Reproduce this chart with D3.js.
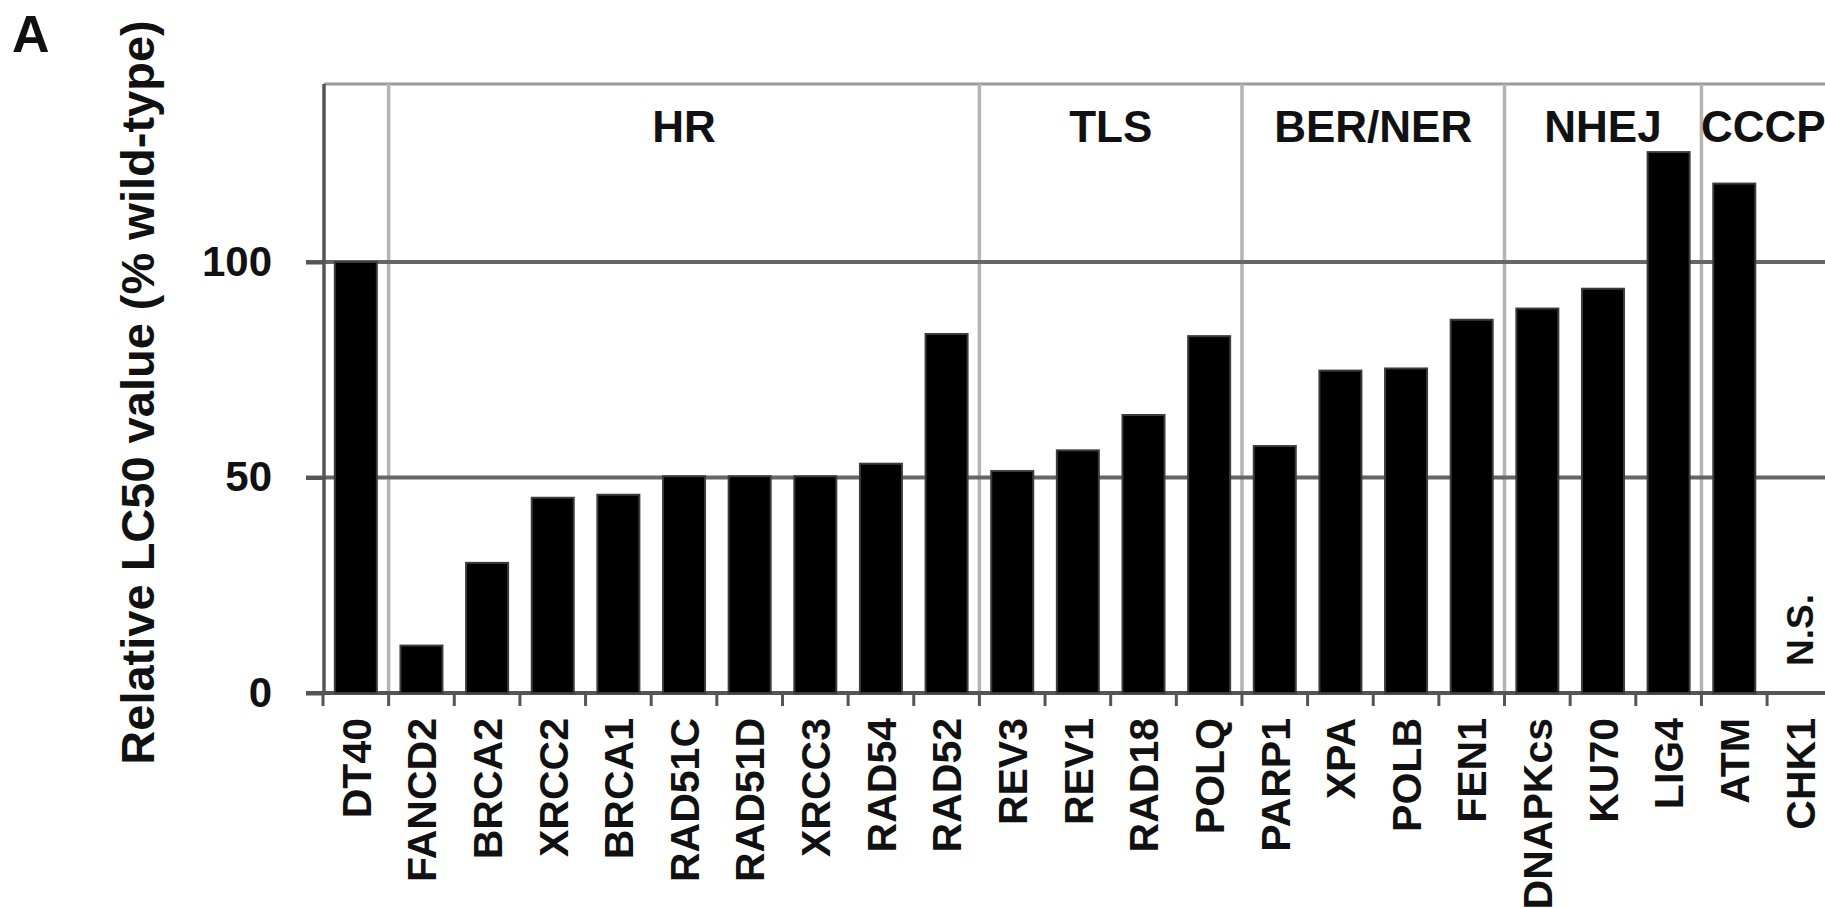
<!DOCTYPE html>
<html>
<head>
<meta charset="utf-8">
<script src="https://cdn.jsdelivr.net/npm/d3@7"></script>
<style>
  html, body { margin: 0; padding: 0; background: #fff; overflow: hidden; }
  svg { display: block; }
  text { font-family: "Liberation Sans", Arial, sans-serif; font-weight: bold; fill: #111; }
</style>
</head>
<body>
<svg id="chart" width="1825" height="908"></svg>
<script>
// Mutant cell lines and their relative LC50 (% of wild-type DT40)
const categories = ["DT40", "FANCD2", "BRCA2", "XRCC2", "BRCA1", "RAD51C", "RAD51D", "XRCC3",
  "RAD54", "RAD52", "REV3", "REV1", "RAD18", "POLQ", "PARP1", "XPA", "POLB", "FEN1",
  "DNAPKcs", "KU70", "LIG4", "ATM", "CHK1"];
const lc50 = [100, 11, 30.2, 45.3, 46, 50.3, 50.3, 50.3, 53.2, 83.3, 51.5, 56.3, 64.5, 82.8,
  57.3, 74.8, 75.3, 86.6, 89.2, 93.8, 125.5, 118.2, null];
// Repair pathways: label, first and last cell line in the pathway
const groupNames = ["HR", "TLS", "BER/NER", "NHEJ", "CCCP"];
const groupFirst = ["FANCD2", "REV3", "PARP1", "DNAPKcs", "ATM"];
const groupLast = ["RAD52", "POLQ", "FEN1", "LIG4", "CHK1"];
const yTicks = [0, 50, 100];
const notSignificant = "N.S.";
const yTitle = "Relative LC50 value (% wild-type)";
const panelLabel = "A";

const data = categories.map((c, i) => ({ name: c, value: lc50[i] }));

const width = 1825;
const svg = d3.select("#chart");
const plotLeft = 324, plotTop = 84, plotBottom = 693;
const step = 65.64;
const plotRight = plotLeft - 1 + step * categories.length;

const x = d3.scaleBand()
  .domain(categories)
  .range([plotLeft - 1, plotRight])
  .paddingInner(0.36)
  .paddingOuter(0.18);
const y = d3.scaleLinear().domain([0, 141.3]).range([plotBottom, plotTop]);

const gap = (x.step() - x.bandwidth()) / 2;
const leftEdge = c => x(c) - gap;
const rightEdge = c => x(c) + x.bandwidth() + gap;

// Frame top
svg.append("line")
  .attr("x1", plotLeft).attr("x2", plotRight)
  .attr("y1", plotTop).attr("y2", plotTop)
  .attr("stroke", "#9a9a9a").attr("stroke-width", 3);

// Pathway dividers
svg.append("g").selectAll("line")
  .data(groupFirst)
  .join("line")
  .attr("x1", d => leftEdge(d)).attr("x2", d => leftEdge(d))
  .attr("y1", plotTop).attr("y2", plotBottom)
  .attr("stroke", "#b4b4b4").attr("stroke-width", 3.5);

// Horizontal reference lines at the y ticks
svg.append("g").selectAll("line")
  .data(yTicks)
  .join("line")
  .attr("x1", plotLeft - 18).attr("x2", plotRight)
  .attr("y1", d => y(d)).attr("y2", d => y(d))
  .attr("stroke", d => d === 0 ? "#555" : "#666")
  .attr("stroke-width", 4);

// Bars
svg.append("g").selectAll("rect")
  .data(data.filter(d => d.value != null))
  .join("rect")
  .attr("x", d => x(d.name))
  .attr("width", x.bandwidth())
  .attr("y", d => y(d.value))
  .attr("height", d => y(0) - y(d.value))
  .attr("fill", "#000")
  .attr("stroke", "#3c3c3c")
  .attr("stroke-width", 2);

// Y axis
const yAxis = d3.axisLeft(y)
  .tickValues(yTicks)
  .tickSize(18)
  .tickSizeOuter(0)
  .tickPadding(34);
const yg = svg.append("g").attr("transform", `translate(${plotLeft},0)`).call(yAxis);
yg.select(".domain").attr("stroke", "#555").attr("stroke-width", 3.5)
  .attr("d", `M0,${plotTop}V${plotBottom}`);
yg.selectAll(".tick line").attr("stroke", "#555").attr("stroke-width", 4);
yg.selectAll(".tick text")
  .attr("font-size", 42)
  .attr("font-family", "Liberation Sans, Arial, sans-serif")
  .attr("font-weight", "bold")
  .attr("fill", "#111");

// Bottom ticks at category boundaries
const boundaries = categories.map(leftEdge).concat([rightEdge(categories[categories.length - 1])]);
svg.append("g").selectAll("line")
  .data(boundaries)
  .join("line")
  .attr("x1", d => d).attr("x2", d => d)
  .attr("y1", plotBottom).attr("y2", plotBottom + 13)
  .attr("stroke", "#555").attr("stroke-width", 3);

// Category labels, rotated
svg.append("g").selectAll("text")
  .data(categories)
  .join("text")
  .attr("transform", d => `translate(${x(d) + x.bandwidth() / 2},${plotBottom + 25}) rotate(-90)`)
  .attr("text-anchor", "end")
  .attr("dy", "0.36em")
  .attr("font-size", 41)
  .text(d => d);

// Pathway labels, centred on the visible part of each pathway
svg.append("g").selectAll("text")
  .data(groupNames)
  .join("text")
  .attr("x", (d, i) => (leftEdge(groupFirst[i]) + Math.min(rightEdge(groupLast[i]), width)) / 2)
  .attr("y", 142)
  .attr("text-anchor", "middle")
  .attr("font-size", 44)
  .text(d => d);

// Not-significant marker for lines without a bar
svg.append("g").selectAll("text")
  .data(data.filter(d => d.value == null))
  .join("text")
  .attr("transform", d => `translate(${x(d.name) + x.bandwidth() / 2},${plotBottom - 27}) rotate(-90)`)
  .attr("text-anchor", "start")
  .attr("dy", "0.36em")
  .attr("font-size", 37)
  .text(notSignificant);

// Axis title
svg.append("text")
  .attr("transform", `translate(154,${(plotTop + plotBottom) / 2 + 4}) rotate(-90)`)
  .attr("text-anchor", "middle")
  .attr("font-size", 47)
  .text(yTitle);

// Panel letter
svg.append("text")
  .attr("x", 12).attr("y", 52)
  .attr("font-size", 52)
  .text(panelLabel);
</script>
</body>
</html>
